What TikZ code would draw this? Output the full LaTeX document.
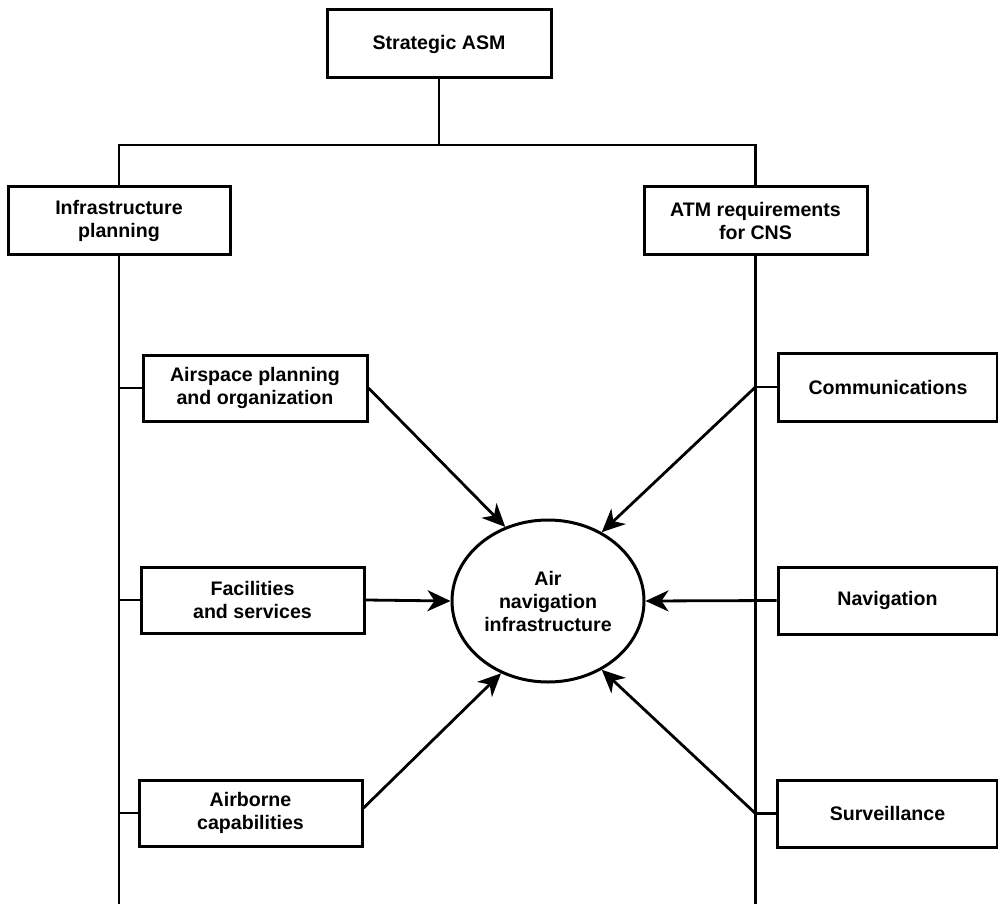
\documentclass[tikz,border=0pt]{standalone}
\usepackage{fontspec}
\setmainfont{Liberation Sans}
\usetikzlibrary{arrows.meta,shapes.geometric}

\begin{document}
\begin{tikzpicture}[
  x=1pt, y=-1pt,
  every node/.style={font=\fontsize{19.6}{23}\selectfont\bfseries, align=center, inner sep=0pt},
  box/.style={draw, line width=3pt, minimum height=67pt},
  hub/.style={draw, ellipse, line width=3pt, minimum width=192pt, minimum height=162pt},
  link/.style={line width=2.8pt},
  feed/.style={line width=2.8pt, -{Stealth[length=23pt, width=21pt, inset=7pt]}}
]
\useasboundingbox (0,0) rectangle (998,904);

% top of the hierarchy
\node[box, minimum width=224pt, minimum height=68pt] (sasm) at (439,44) {Strategic ASM};

% the two planning branches
\node[box, minimum width=222pt] (infra) at (119,220.5) {Infrastructure\\planning};
\node[box, minimum width=223pt] (atm)   at (755.5,220.5) {ATM requirements\\for CNS};

% left-hand elements
\node[box, minimum width=224pt, minimum height=66pt] (asp) at (255,388) {Airspace planning\\and organization};
\node[box, minimum width=223pt, minimum height=66pt] (fac) at (252.5,600) {Facilities\\and services};
\node[box, minimum width=223pt, minimum height=66pt] (abc) at (250.5,813) {Airborne\\capabilities};

% right-hand elements (C, N and S)
\node[box, minimum width=219pt, minimum height=68pt] (com) at (888,387) {Communications};
\node[box, minimum width=219pt] (nav) at (887.5,600.5) {Navigation};
\node[box, minimum width=220pt] (sur) at (887.5,813.5) {Surveillance};

% central element
\node[hub] (anf) at (548,601) {Air\\navigation\\infrastructure};

% tree skeleton
\coordinate (top) at (439,145);
\coordinate (tl) at (119,145);
\coordinate (tr) at (755.5,145);
\coordinate (lb) at (119,904);
\coordinate (rb) at (755.5,904);

\draw[link] (sasm.south) -- (top);
\draw[link] (infra.north) -- (tl) -- (tr) -- (atm.north);
\draw[link] (infra.south) -- (lb);
\draw[link] (atm.south) -- (rb);

% side branches onto the spines
\coordinate (j1) at (asp.west -| lb);
\coordinate (j2) at (fac.west -| lb);
\coordinate (j3) at (abc.west -| lb);
\coordinate (j4) at (com.west -| rb);
\coordinate (j6) at (sur.west -| rb);

\draw[link] (j1) -- (asp.west);
\draw[link] (j2) -- (fac.west);
\draw[link] (j3) -- (abc.west);
\draw[link] (j4) -- (com.west);
\draw[link] (j6) -- (sur.west);

% inputs to the air navigation infrastructure
\draw[feed] (asp.east) -- (anf.120);
\draw[feed] (fac.east) -- (anf.west);
\draw[feed] ([yshift=5pt]abc.east) -- (anf.237);
\draw[feed] (j4) -- (anf.52);
\draw[feed] (nav.west) -- (anf.east);
\draw[feed] (j6) -- (anf.308);
\end{tikzpicture}
\end{document}
